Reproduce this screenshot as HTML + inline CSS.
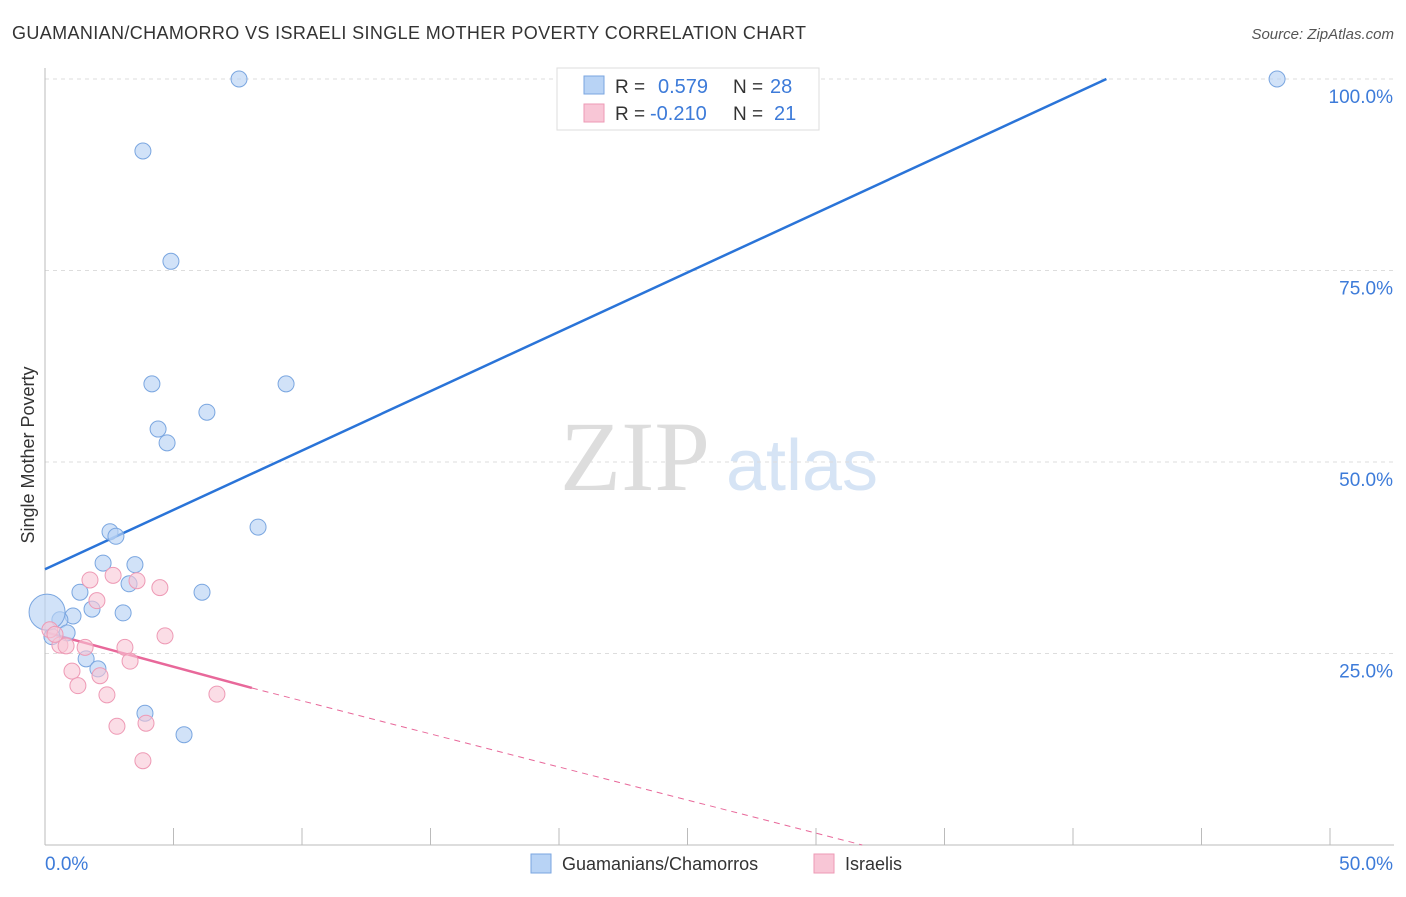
<!DOCTYPE html>
<html><head><meta charset="utf-8"><style>
body{margin:0;background:#fff;font-family:"Liberation Sans",sans-serif}
svg text{font-family:"Liberation Sans",sans-serif}
</style></head><body>
<svg id="chart" width="1406" height="892" xmlns="http://www.w3.org/2000/svg">
<text x="12" y="39" font-size="18" fill="#333" textLength="794">GUAMANIAN/CHAMORRO VS ISRAELI SINGLE MOTHER POVERTY CORRELATION CHART</text>
<text x="1394" y="39" font-size="15" fill="#555" text-anchor="end" font-style="italic">Source: ZipAtlas.com</text>
<g>
<text x="635" y="490" font-size="100" fill="#ddd" text-anchor="middle" style="font-family:'Liberation Serif',serif">ZIP</text>
<text x="802" y="490" font-size="72" fill="#d6e4f5" text-anchor="middle">atlas</text>
</g>
<g id="grid"></g>
<g id="axes"></g>
<text transform="translate(34,455) rotate(-90)" font-size="18" fill="#333" text-anchor="middle">Single Mother Poverty</text>
<g id="lines"></g>
<g id="points"></g>
<g>
<rect x="557" y="68" width="262" height="62" fill="#fff" stroke="#ddd"/>
<rect x="584" y="76" width="20" height="18" fill="#b8d3f5" stroke="#7aa6e0"/>
<text x="615" y="93" font-size="19" fill="#333">R = </text><text x="658" y="93" font-size="20" fill="#3d7bd9">0.579</text>
<text x="733" y="93" font-size="19" fill="#333">N = </text><text x="770" y="93" font-size="20" fill="#3d7bd9">28</text>
<rect x="584" y="104" width="20" height="18" fill="#f8c6d6" stroke="#ee9ab5"/>
<text x="615" y="120" font-size="19" fill="#333">R = </text><text x="650" y="120" font-size="20" fill="#3d7bd9">-0.210</text>
<text x="733" y="120" font-size="19" fill="#333">N = </text><text x="774" y="120" font-size="20" fill="#3d7bd9">21</text>
</g>
<g>
<rect x="531" y="854" width="20" height="19" fill="#b8d3f5" stroke="#7aa6e0"/>
<text x="562" y="870" font-size="18" fill="#333">Guamanians/Chamorros</text>
<rect x="814" y="854" width="20" height="19" fill="#f8c6d6" stroke="#ee9ab5"/>
<text x="845" y="870" font-size="18" fill="#333">Israelis</text>
</g>
</svg>
<script>
const blueX=[7.55,47.94,3.81,4.90,4.16,9.38,6.30,4.40,4.75,8.29,2.53,2.76,2.26,3.50,1.36,3.27,6.11,1.83,3.04,1.09,0.58,0.86,0.27,1.60,2.06,3.89,5.41,0.08];
const blueY=[100,100,90.6,76.2,60.2,60.2,56.5,54.3,52.5,41.5,40.9,40.3,36.8,36.6,33.0,34.1,33.0,30.8,30.3,29.9,29.4,27.7,27.2,24.3,23.0,17.2,14.4,30.4];
const pinkX=[1.75,2.65,3.58,4.47,2.02,4.67,1.56,3.11,0.58,0.82,0.19,3.31,1.05,2.14,1.28,2.41,6.69,2.80,3.93,3.81,0.39];
const pinkY=[34.6,35.2,34.5,33.6,31.9,27.3,25.8,25.8,26.1,26.0,28.1,24.0,22.7,22.1,20.8,19.6,19.7,15.5,15.9,11.0,27.5];
const yTicks=[25,50,75,100];
const yTickLabels=["25.0%","50.0%","75.0%","100.0%"];
const xTicks=[0,5,10,15,20,25,30,35,40,45,50];
const blueLine=[0,36.0,41.3,100];
const pinkLine=[0,27.8,8.05,20.5,31.8,0];
const NS="http://www.w3.org/2000/svg";
const sx=v=>45+v/50*1285, sy=v=>845-v/100*766;
function mk(t,a,p){const e=document.createElementNS(NS,t);for(const k in a)e.setAttribute(k,a[k]);p.appendChild(e);return e;}
const grid=document.getElementById('grid'),axes=document.getElementById('axes'),lines=document.getElementById('lines'),pts=document.getElementById('points');
yTicks.forEach((t,i)=>{
 const l=mk('line',{x1:45,x2:1394,y1:sy(t),y2:sy(t),stroke:'#ddd','stroke-dasharray':'4,4'},grid);
 
 
 const tx=mk('text',{x:1393,y:sy(t)+24,'font-size':19,fill:'#3d7bd9','text-anchor':'end'},grid);
 tx.textContent=yTickLabels[i];
 
 
});
const ya=mk('line',{x1:45,x2:45,y1:68,y2:845,stroke:'#bbb'},axes);


const xa=mk('line',{x1:45,x2:1394,y1:845,y2:845,stroke:'#bbb'},axes);


xTicks.forEach(t=>{
 const l=mk('line',{x1:sx(t),x2:sx(t),y1:828,y2:845,stroke:'#bbb'},axes);
 
 
});
const x0=mk('text',{x:45,y:870,'font-size':19,fill:'#3d7bd9'},axes);x0.textContent='0.0%';


const x1=mk('text',{x:1393,y:870,'font-size':19,fill:'#3d7bd9','text-anchor':'end'},axes);x1.textContent='50.0%';


const bl=mk('line',{x1:sx(blueLine[0]),y1:sy(blueLine[1]),x2:sx(blueLine[2]),y2:sy(blueLine[3]),stroke:'#2a74d8','stroke-width':2.5},lines);


const pl=mk('line',{x1:sx(pinkLine[0]),y1:sy(pinkLine[1]),x2:sx(pinkLine[2]),y2:sy(pinkLine[3]),stroke:'#e8689a','stroke-width':2.5},lines);


const pd=mk('line',{x1:sx(pinkLine[2]),y1:sy(pinkLine[3]),x2:sx(pinkLine[4]),y2:sy(pinkLine[5]),stroke:'#e8689a','stroke-width':1,'stroke-dasharray':'6,5'},lines);


blueX.forEach((x,i)=>{
 const c=mk('circle',{cx:sx(x),cy:sy(blueY[i]),r:i==blueX.length-1?18:8,fill:'#b8d3f5','fill-opacity':0.65,stroke:'#7aa6e0'},pts);
 
 
});
pinkX.forEach((x,i)=>{
 const c=mk('circle',{cx:sx(x),cy:sy(pinkY[i]),r:8,fill:'#f8c6d6','fill-opacity':0.6,stroke:'#ee9ab5'},pts);
 
 
});
</script>
</body></html>
